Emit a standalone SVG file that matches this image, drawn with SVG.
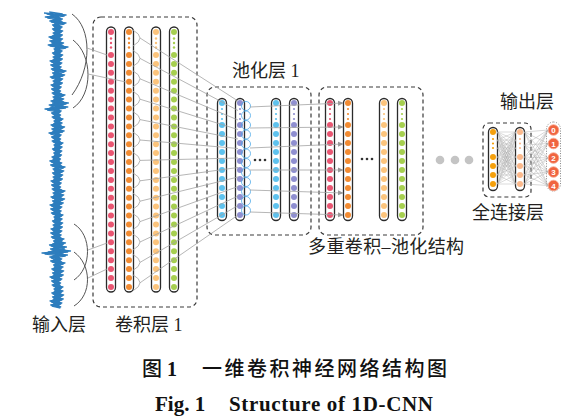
<svg xmlns="http://www.w3.org/2000/svg" xmlns:xlink="http://www.w3.org/1999/xlink" width="572" height="416" viewBox="0 0 572 416">
<style>
.cap{fill:#fff;stroke:#2b2b2b;stroke-width:1.3}
.box{fill:none;stroke:#3a3a3a;stroke-width:1.2;stroke-dasharray:4 3}
.lbl{font-family:"Liberation Serif","Noto Sans CJK SC",serif;font-size:18px;fill:#231f20}
.cap1{font-family:"Liberation Serif","Noto Sans CJK SC",serif;font-weight:bold;fill:#111}
.cap2{font-family:"Liberation Serif","Noto Sans CJK SC",serif;font-weight:500;fill:#111}
.ln{stroke:#a3a3a3;stroke-width:0.8;fill:none}
.arc{stroke:#555;stroke-width:1;fill:none}
.wave{fill:none;stroke:#2d7dbd;stroke-width:1.3;stroke-linejoin:round}
.dots3 circle{fill:#333}
</style>
<defs>
<marker id="ah" markerWidth="6" markerHeight="6" refX="5" refY="3" orient="auto" markerUnits="userSpaceOnUse"><path d="M0,0.5 L5.5,3 L0,5.5z" fill="#9a9a9a"/></marker>
<g id="col1"><rect x="-4.5" y="27" width="9" height="265" rx="4.5" class="cap"/><g fill="currentColor"><circle cy="32" r="3"/><circle cy="38.5" r="1.2"/><circle cy="43" r="1.2"/><circle cy="47.5" r="1.2"/><circle cy="55" r="3"/><circle cy="63.9" r="3"/><circle cy="72.8" r="3"/><circle cy="81.8" r="3"/><circle cy="90.7" r="3"/><circle cy="99.6" r="3"/><circle cy="108.5" r="3"/><circle cy="117.4" r="3"/><circle cy="126.4" r="3"/><circle cy="135.3" r="3"/><circle cy="144.2" r="3"/><circle cy="153.1" r="3"/><circle cy="162" r="3"/><circle cy="171" r="3"/><circle cy="179.9" r="3"/><circle cy="188.8" r="3"/><circle cy="197.7" r="3"/><circle cy="206.6" r="3"/><circle cy="215.6" r="3"/><circle cy="224.5" r="3"/><circle cy="233.4" r="3"/><circle cy="242.3" r="3"/><circle cy="251.2" r="3"/><circle cy="260.2" r="3"/><circle cy="269.1" r="3"/><circle cy="278" r="3"/><circle cy="286.9" r="3"/></g></g>
<g id="col2"><rect x="-4.5" y="98.5" width="9" height="122" rx="4.5" class="cap"/><g fill="currentColor"><circle cy="103" r="3"/><circle cy="109" r="1.1"/><circle cy="114" r="1.1"/><circle cy="119" r="1.1"/><circle cy="125" r="3"/><circle cy="134" r="3"/><circle cy="143" r="3"/><circle cy="152" r="3"/><circle cy="161" r="3"/><circle cy="170" r="3"/><circle cy="179" r="3"/><circle cy="188" r="3"/><circle cy="197" r="3"/><circle cy="206" r="3"/><circle cy="215" r="3"/></g></g>
<g id="col3"><rect x="-4.5" y="127.5" width="9" height="63" rx="4.5" class="cap"/><g fill="currentColor"><circle cy="132" r="3"/><circle cy="139" r="1.1"/><circle cy="143.5" r="1.1"/><circle cy="148" r="1.1"/><circle cy="157" r="3"/><circle cy="166" r="3"/><circle cy="175" r="3"/><circle cy="184" r="3"/></g></g>
<polyline id="wv" class="wave" points="44,13 66.1,15 45.3,17 62.4,19 49.8,21 66,23 52.5,25 62.1,27 52.5,29 62.7,31 53.1,33 62.4,35 49,37 62.6,39 49.8,41 63.6,43 48.2,45 68,47 54,49 62.1,51 52.5,53 62.7,55 53.1,57 62.4,59 50,61 61.9,63 50.7,65 61.2,67 51.4,69 66,71 52.5,73 64.7,75 50.3,77 62.7,79 53.1,81 62.4,83 51,85 61.2,87 51.6,89 60.6,91 52.2,93 65,95 53,97 63.8,99 51,101 68.4,103 49.2,105 67.8,107 45,109 61.2,111 51.6,113 60.6,115 52.2,117 63,119 54,121 62.1,123 51,125 64.6,127 51.8,129 64.2,131 49,133 61.2,135 51.6,137 60.6,139 52.2,141 63,143 54,145 62.1,147 52.5,149 61.8,151 53.8,153 61.5,155 52,157 60.5,159 49.8,161 61.8,163 50.6,165 65,167 53,169 63.8,171 52.5,173 62.7,175 53.1,177 62.4,179 51,181 61.2,183 51.6,185 60.6,187 52.2,189 65,191 53,193 63.8,195 51,197 64.6,199 52.5,201 63.3,203 50,205 61.9,207 50.7,209 61.2,211 51.4,213 63,215 54,217 62.1,219 52.5,221 62.7,223 53.1,225 62.4,227 51,229 61.9,231 50.7,233 61.2,235 51.4,237 64,239 53.5,241 65.5,243 49.5,245 66.5,247 50.5,249 70.5,251 42,253 67.5,255 49.8,257 61.8,259 50.6,261 65,263 53.5,265 63,267 51.8,269 63.7,271 52.5,273 63.3,275 50,277 61.9,279 51.6,281 60.6,283 52.2,285 63,287 54,289 63,291 51.8,293 63.7,295 52.5,297 63.3,299 50,301 61.9,303 50.7,305 61.2,307"/>
</defs>
<rect width="572" height="416" fill="#fff"/>

<g id="input-layer">
<use href="#wv"/>
<use href="#wv" transform="translate(11.4,1) scale(0.8,1)"/>
<use href="#wv" transform="translate(22.8,-1) scale(0.6,1)"/>
<rect x="54.8" y="13" width="4.4" height="294" fill="#2d7dbd"/>
<text class="lbl" x="32" y="331">输入层</text>
</g>

<g id="conv1">
<rect class="box" x="93" y="17" width="104" height="290" rx="8"/>
<use href="#col1" x="111" style="color:#ea5672"/>
<use href="#col1" x="129" style="color:#f28b32"/>
<use href="#col1" x="156" style="color:#fcc47c"/>
<use href="#col1" x="174" style="color:#a6cf4f"/>
<text class="lbl" x="115" y="331">卷积层 1</text>
</g>

<g id="pool1">
<rect class="box" x="207" y="87" width="104" height="148" rx="8"/>
<use href="#col2" x="222" style="color:#5ec2ee"/>
<use href="#col2" x="240" style="color:#8f8fd0"/>
<use href="#col2" x="276" style="color:#5ec2ee"/>
<use href="#col2" x="294" style="color:#8f8fd0"/>
<g class="dots3"><circle cx="255" cy="160" r="1.3"/><circle cx="260" cy="160" r="1.3"/><circle cx="265" cy="160" r="1.3"/></g>
<text class="lbl" x="232" y="77">池化层 1</text>
</g>

<g id="multi-conv-pool">
<rect class="box" x="319" y="87" width="104" height="148" rx="8"/>
<use href="#col2" x="330" style="color:#ea5672"/>
<use href="#col2" x="348" style="color:#f28b32"/>
<use href="#col2" x="384" style="color:#fcc47c"/>
<use href="#col2" x="402" style="color:#a6cf4f"/>
<g class="dots3"><circle cx="362" cy="159" r="1.3"/><circle cx="367" cy="159" r="1.3"/><circle cx="372" cy="159" r="1.3"/></g>
<text class="lbl" x="308" y="253" textLength="156" lengthAdjust="spacing">多重卷积–池化结构</text>
</g>

<g id="ellipsis" fill="#c4c4c4">
<circle cx="440" cy="160" r="4.3"/><circle cx="455" cy="160" r="4.3"/><circle cx="469" cy="160" r="4.3"/>
</g>

<g id="fully-connected">
<rect class="box" x="483" y="123" width="48" height="74" rx="6"/>
<use href="#col3" x="493" style="color:#f5a00c"/>
<use href="#col3" x="520" style="color:#fbb98c"/>
<text class="lbl" x="472" y="219">全连接层</text>
</g>

<g id="output-layer">
<rect x="546.5" y="122" width="14" height="69" rx="7" fill="none" stroke="#777" stroke-width="0.9" stroke-dasharray="1 1.5"/>
<g fill="#f0643f" stroke="#f8a58c" stroke-width="0.8">
<circle cx="553.5" cy="130" r="5.3"/><circle cx="553.5" cy="143.5" r="5.3"/><circle cx="553.5" cy="158" r="5.3"/><circle cx="553.5" cy="172" r="5.3"/><circle cx="553.5" cy="185.5" r="5.3"/>
</g>
<g font-family="Liberation Sans, sans-serif" font-size="8" font-weight="bold" fill="#fff" text-anchor="middle">
<text x="553.5" y="133">0</text><text x="553.5" y="146.5">1</text><text x="553.5" y="161">2</text><text x="553.5" y="175">3</text><text x="553.5" y="188.5">4</text>
</g>
<text class="lbl" x="500" y="108">输出层</text>
</g>

<g id="connectors">
<path class="arc" d="M72,14 C92,28 92,68 72,95 M73,40 C93,55 93,95 73,108 M74,224 C92,235 92,268 74,280 M74,252 C92,265 92,295 74,306"/>
<path class="ln" d="M87,48 L107,55 M88,74 L126,82 M88,250 L107,243 M88,278 L107,269"/>
<path class="ln" d="M133,30 Q147,38 133,46 M133,50.4 Q147,58.4 133,66.4 M133,70.8 Q147,78.8 133,86.8 M133,91.2 Q147,99.2 133,107.2 M133,111.6 Q147,119.6 133,127.6 M133,132 Q147,140 133,148 M133,152.4 Q147,160.4 133,168.4 M133,172.8 Q147,180.8 133,188.8 M133,193.2 Q147,201.2 133,209.2 M133,213.6 Q147,221.6 133,229.6 M133,234 Q147,242 133,250 M133,254.4 Q147,262.4 133,270.4 M133,274.8 Q147,282.8 133,290.8"/>
<path class="ln" d="M140,38 L238,101 M140,58.4 L238,110.5 M140,78.8 L238,120 M140,99.2 L238,129.5 M140,119.6 L238,139 M140,140 L238,148.5 M140,160.4 L238,158 M140,180.8 L238,167.5 M140,201.2 L238,177 M140,221.6 L238,186.5 M140,242 L238,196 M140,262.4 L238,205.5 M140,282.8 L238,215"/>
<g fill="none" stroke="#4aa8e8" stroke-width="0.8">
<circle cx="246" cy="106" r="4.5"/><circle cx="246" cy="115.5" r="4.5"/><circle cx="246" cy="125" r="4.5"/><circle cx="246" cy="134.5" r="4.5"/><circle cx="246" cy="144" r="4.5"/><circle cx="246" cy="153.5" r="4.5"/><circle cx="246" cy="163" r="4.5"/><circle cx="246" cy="172.5" r="4.5"/><circle cx="246" cy="182" r="4.5"/><circle cx="246" cy="191.5" r="4.5"/><circle cx="246" cy="201" r="4.5"/><circle cx="246" cy="210.5" r="4.5"/>
</g>
<g class="ln" marker-end="url(#ah)">
<path d="M250,107 L343,103"/><path d="M250,128 L343,127"/><path d="M250,148 L343,144"/><path d="M250,170 L343,170"/><path d="M250,190 L343,193"/><path d="M250,212 L343,215"/>
</g>
<path stroke="#b0b0b0" stroke-width="0.45" fill="none" d="M497.5,132L515.5,132M497.5,132L515.5,140M497.5,132L515.5,148M497.5,132L515.5,157M497.5,132L515.5,166M497.5,132L515.5,175M497.5,132L515.5,184M497.5,140L515.5,132M497.5,140L515.5,140M497.5,140L515.5,148M497.5,140L515.5,157M497.5,140L515.5,166M497.5,140L515.5,175M497.5,140L515.5,184M497.5,148L515.5,132M497.5,148L515.5,140M497.5,148L515.5,148M497.5,148L515.5,157M497.5,148L515.5,166M497.5,148L515.5,175M497.5,148L515.5,184M497.5,157L515.5,132M497.5,157L515.5,140M497.5,157L515.5,148M497.5,157L515.5,157M497.5,157L515.5,166M497.5,157L515.5,175M497.5,157L515.5,184M497.5,166L515.5,132M497.5,166L515.5,140M497.5,166L515.5,148M497.5,166L515.5,157M497.5,166L515.5,166M497.5,166L515.5,175M497.5,166L515.5,184M497.5,175L515.5,132M497.5,175L515.5,140M497.5,175L515.5,148M497.5,175L515.5,157M497.5,175L515.5,166M497.5,175L515.5,175M497.5,175L515.5,184M497.5,184L515.5,132M497.5,184L515.5,140M497.5,184L515.5,148M497.5,184L515.5,157M497.5,184L515.5,166M497.5,184L515.5,175M497.5,184L515.5,184"/>
<path stroke="#b0b0b0" stroke-width="0.5" fill="none" d="M524.5,132L548,130M524.5,132L548,143.5M524.5,132L548,158M524.5,132L548,172M524.5,132L548,185.5M524.5,145L548,130M524.5,145L548,143.5M524.5,145L548,158M524.5,145L548,172M524.5,145L548,185.5M524.5,157L548,130M524.5,157L548,143.5M524.5,157L548,158M524.5,157L548,172M524.5,157L548,185.5M524.5,166L548,130M524.5,166L548,143.5M524.5,166L548,158M524.5,166L548,172M524.5,166L548,185.5M524.5,175L548,130M524.5,175L548,143.5M524.5,175L548,158M524.5,175L548,172M524.5,175L548,185.5M524.5,184L548,130M524.5,184L548,143.5M524.5,184L548,158M524.5,184L548,172M524.5,184L548,185.5"/>
</g>

<g id="caption">
<text class="cap2" x="142" y="376" font-size="20">图 <tspan font-weight="bold">1</tspan></text>
<text class="cap2" x="202" y="376" font-size="20" textLength="245" lengthAdjust="spacing">一维卷积神经网络结构图</text>
<text class="cap1" x="155" y="411" font-size="21">Fig. 1</text>
<text class="cap1" x="229" y="411" font-size="21" textLength="204" lengthAdjust="spacing">Structure of 1D-CNN</text>
</g>
</svg>
